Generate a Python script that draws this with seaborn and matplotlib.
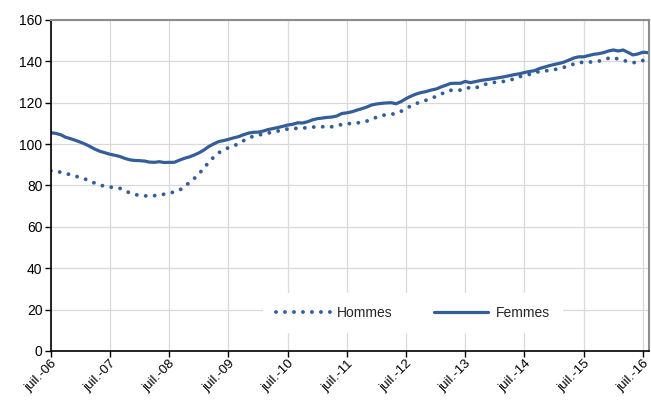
import pandas as pd
import matplotlib
matplotlib.use("Agg")
import matplotlib.pyplot as plt
from matplotlib.lines import Line2D
import seaborn as sns

# monthly values, juil.-06 .. août-16
femmes = [
    105.5, 105.2, 104.5, 103.3, 102.6, 101.8, 100.9, 99.9, 98.8, 97.5, 96.5, 95.8,
    95.1, 94.6, 94.0, 93.1, 92.4, 92.1, 92.0, 91.8, 91.3, 91.2, 91.5, 91.1,
    91.2, 91.2, 92.2, 93.1, 93.8, 94.7, 95.8, 97.2, 98.8, 100.1, 101.2, 101.7,
    102.3, 103.0, 103.6, 104.5, 105.3, 105.7, 105.8, 106.3, 107.0, 107.5, 108.0, 108.6,
    109.2, 109.6, 110.3, 110.2, 110.8, 111.7, 112.3, 112.6, 112.9, 113.1, 113.6, 114.8,
    115.1, 115.6, 116.4, 117.1, 117.9, 118.9, 119.4, 119.7, 119.9, 120.0, 119.5, 120.6,
    122.0, 123.2, 124.2, 124.9, 125.4, 126.1, 126.6, 127.6, 128.4, 129.3, 129.4, 129.4,
    130.3, 129.7, 130.2, 130.7, 131.1, 131.4, 131.8, 132.2, 132.6, 133.1, 133.6, 134.0,
    134.6, 135.1, 135.5, 136.5, 137.2, 137.9, 138.5, 139.0, 139.6, 140.6, 141.6, 142.2,
    142.2, 142.8, 143.4, 143.7, 144.2, 145.0, 145.5, 145.0, 145.5, 144.3, 143.1, 143.6,
    144.4, 144.2,
]
hommes = [
    87.1, 86.8, 86.4, 85.8, 85.2, 84.5, 83.8, 83.0, 82.0, 81.1, 80.2, 79.6,
    79.2, 79.1, 78.6, 77.5, 76.4, 75.6, 75.3, 75.0, 74.9, 75.1, 75.4, 75.8,
    76.3, 76.9, 77.7, 79.2, 81.4, 83.3, 85.7, 88.5, 91.2, 93.7, 95.8, 97.0,
    98.3, 99.1, 100.2, 101.6, 102.9, 103.8, 104.3, 104.9, 105.3, 105.8, 106.3, 106.9,
    107.3, 107.6, 107.6, 107.7, 108.0, 108.2, 108.4, 108.4, 108.4, 108.4, 108.9, 109.5,
    109.8, 110.0, 110.2, 110.6, 111.1, 112.0, 113.0, 113.8, 114.2, 114.4, 114.9, 115.9,
    117.1, 118.6, 119.6, 120.4, 121.2, 122.1, 123.0, 124.2, 125.1, 126.0, 126.1, 126.1,
    127.0, 127.3, 127.0, 128.2, 128.9, 129.4, 129.9, 130.3, 130.3, 130.9, 131.6, 132.6,
    133.2, 133.7, 134.4, 135.1, 135.4, 135.6, 136.0, 136.5, 137.1, 137.9, 138.7, 139.5,
    139.5, 139.6, 139.8, 140.1, 140.6, 141.5, 141.9, 141.0, 140.4, 140.0, 139.4, 139.5,
    140.4, 140.6,
]
tick_labels = ["juil.-06", "juil.-07", "juil.-08", "juil.-09", "juil.-10", "juil.-11",
               "juil.-12", "juil.-13", "juil.-14", "juil.-15", "juil.-16"]

dates = pd.date_range("2006-07-01", periods=len(femmes), freq="MS")
df = pd.DataFrame({"Date": dates, "Hommes": hommes, "Femmes": femmes})
df_long = df.melt(id_vars="Date", var_name="Sexe", value_name="Valeur")

blue = "#335E99"
dotted = (0, (0.01, 2.3))

sns.set_theme(style="white")
plt.rcParams["font.family"] = ["Liberation Sans", "DejaVu Sans"]

fig = plt.figure(figsize=(6.51, 4.07), dpi=100)
ax = fig.add_axes([0.078, 0.1376, 0.919, 0.8133])

sns.lineplot(data=df_long, x="Date", y="Valeur", hue="Sexe", style="Sexe",
             palette={"Hommes": blue, "Femmes": blue},
             dashes={"Hommes": (0.01, 2.3), "Femmes": ""},
             ax=ax, linewidth=2.3, legend=False)
for line in ax.lines:
    line.set_dash_capstyle("round")
ax.lines[0].set_linewidth(2.8)

# legend, white box hides the gridline behind it
handles = [
    Line2D([], [], color=blue, linewidth=2.8, linestyle=dotted, dash_capstyle="round"),
    Line2D([], [], color=blue, linewidth=2.3),
]
leg = ax.legend(handles, ["Hommes", "Femmes"], ncol=2, loc="center",
                bbox_to_anchor=(0.605, 0.115), frameon=True, fancybox=False,
                edgecolor="white", framealpha=1, fontsize=10, handlelength=3.9,
                columnspacing=3.0, handletextpad=0.5, borderpad=0.9,
                borderaxespad=0)

ax.set_ylim(0, 160)
ax.set_yticks(range(0, 161, 20))
ax.set_xlim(pd.Timestamp("2006-07-01"), pd.Timestamp("2016-08-08"))
year_ticks = pd.date_range("2006-07-01", periods=len(tick_labels), freq="12MS")
ax.set_xticks(year_ticks)
ax.set_xticklabels(tick_labels, rotation=45, ha="right", rotation_mode="anchor")

ax.grid(True, color="#d9d9d9", linewidth=0.9)
ax.set_axisbelow(True)
ax.set_xlabel("")
ax.set_ylabel("")

for side in ["left", "bottom"]:
    ax.spines[side].set_color("black")
    ax.spines[side].set_linewidth(1.2)
for side in ["top", "right"]:
    ax.spines[side].set_color("#8c8c8c")
    ax.spines[side].set_linewidth(1.5)

ax.tick_params(axis="y", labelsize=10, colors="black", length=4, width=1,
               direction="out", left=True, pad=2)
ax.tick_params(axis="x", labelsize=9.6, colors="black", length=4, width=1,
               direction="out", bottom=True, pad=1)

fig.savefig("out.png", dpi=100)
